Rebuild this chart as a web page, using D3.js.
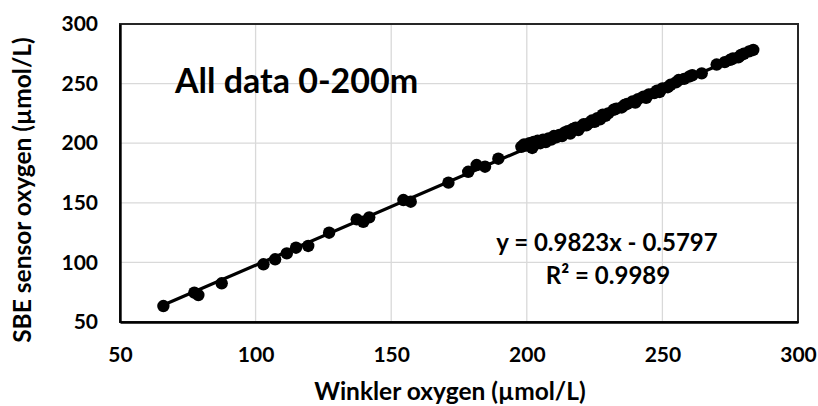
<!DOCTYPE html>
<html>
<head>
<meta charset="utf-8">
<script src="https://cdn.jsdelivr.net/npm/d3@7"></script>
<style>
  html, body { margin: 0; padding: 0; background: #fff; }
  svg { display: block; font-family: Lato, "Open Sans", sans-serif; }
</style>
</head>
<body>
<svg id="chart" width="818" height="406"></svg>
<script>
// Data
const winkler = [66, 77.4, 78.9, 87.5, 102.9, 107.2, 111.5, 114.9, 119.4, 127.1, 137.3, 139.7, 141.9, 154.5, 157.2, 171.1, 178.4, 181.5, 184.6, 189.5,
  198, 199, 200, 201, 202, 202.5, 203, 204, 205, 206, 207, 208, 209, 210, 211, 212, 213, 214, 215, 216, 217, 218, 219, 220, 221, 222, 223, 224, 225, 226, 227, 228, 229, 230,
  232, 233, 235, 236, 237, 239, 240, 241, 243, 244, 245, 247, 248, 249, 250, 252, 253, 255, 256,
  258, 260, 261, 264.5, 270, 273, 275, 276, 278, 279, 280, 282, 283.5];
const sbe = [63.4, 74.6, 72.6, 82.5, 98.4, 102.6, 107.6, 112.3, 113.8, 124.9, 136.1, 134.1, 137.8, 152.3, 150.9, 166.9, 176, 181.7, 180.3, 187,
  197, 199, 198, 200, 196, 201, 199, 202, 200, 203, 201, 204, 203, 206, 205, 207, 206, 209, 210, 208, 212, 213, 211, 214, 216, 215, 217, 219, 218, 221, 220, 224, 223, 225,
  228, 229, 230, 232, 233, 235, 234, 237, 239, 238, 241, 242, 244, 243, 246, 247, 249, 251, 253,
  254, 256, 257, 258.6, 266, 268, 270, 271, 272, 274, 275, 277, 278.2];
const xTicks = [50, 100, 150, 200, 250, 300];
const yTicks = [50, 100, 150, 200, 250, 300];
const slope = 0.9823;
const intercept = -0.5797;
const titleText = "All data 0-200m";
const xTitle = "Winkler oxygen (µmol/L)";
const yTitle = "SBE sensor oxygen (µmol/L)";
const eqText = "y = 0.9823x - 0.5797";
const r2Text = "R² = 0.9989";

const svg = d3.select("#chart");
const pLeft = 120, pRight = 798, pTop = 24, pBottom = 322;
const x = d3.scaleLinear().domain([50, 300]).range([pLeft, pRight]);
const y = d3.scaleLinear().domain([50, 300]).range([pBottom, pTop]);

// gridlines
svg.append("g").selectAll("line").data(xTicks.slice(1, -1)).join("line")
  .attr("x1", d => x(d)).attr("x2", d => x(d)).attr("y1", pTop).attr("y2", pBottom)
  .attr("stroke", "#d9d9d9").attr("stroke-width", 1.3);
svg.append("g").selectAll("line").data(yTicks.slice(1, -1)).join("line")
  .attr("y1", d => y(d)).attr("y2", d => y(d)).attr("x1", pLeft).attr("x2", pRight)
  .attr("stroke", "#d9d9d9").attr("stroke-width", 1.3);

// title
svg.append("text").attr("x", 175).attr("y", 93)
  .attr("font-size", 34).attr("font-weight", "bold").attr("fill", "#000")
  .text(titleText);

// border
svg.append("rect").attr("x", pLeft).attr("y", pTop).attr("width", pRight - pLeft).attr("height", pBottom - pTop)
  .attr("fill", "none").attr("stroke", "#262626").attr("stroke-width", 2);

// axes
const xAxis = svg.append("g").attr("transform", `translate(0,${pBottom})`)
  .call(d3.axisBottom(x).tickValues(xTicks).tickSize(0).tickPadding(25));
const yAxis = svg.append("g").attr("transform", `translate(${pLeft},0)`)
  .call(d3.axisLeft(y).tickValues(yTicks).tickSize(0).tickPadding(22));
[xAxis, yAxis].forEach(g => {
  g.select(".domain").attr("stroke", "#000").attr("stroke-width", 2.4);
  g.selectAll("text").attr("font-size", 21).attr("font-weight", "bold")
    .attr("font-family", "Lato, sans-serif").attr("fill", "#000");
});

// trendline
const xMin = d3.min(winkler), xMax = d3.max(winkler);
svg.append("line")
  .attr("x1", x(xMin)).attr("y1", y(slope * xMin + intercept))
  .attr("x2", x(xMax)).attr("y2", y(slope * xMax + intercept))
  .attr("stroke", "#000").attr("stroke-width", 3.2);

// points
svg.append("g").selectAll("circle").data(winkler.map((d, i) => [d, sbe[i]])).join("circle")
  .attr("cx", d => x(d[0])).attr("cy", d => y(d[1])).attr("r", 6.2).attr("fill", "#000");

// equation
svg.append("text").attr("x", 607).attr("y", 251).attr("text-anchor", "middle")
  .attr("font-size", 24).attr("font-weight", "bold").text(eqText);
svg.append("text").attr("x", 608).attr("y", 284).attr("text-anchor", "middle")
  .attr("font-size", 24).attr("font-weight", "bold").text(r2Text);

// axis titles
svg.append("text").attr("x", 450).attr("y", 400).attr("text-anchor", "middle")
  .attr("font-size", 24.5).attr("font-weight", "bold").text(xTitle);
svg.append("text").attr("transform", "translate(31,190) rotate(-90)").attr("text-anchor", "middle")
  .attr("font-size", 24.5).attr("font-weight", "bold").text(yTitle);
</script>
</body>
</html>
